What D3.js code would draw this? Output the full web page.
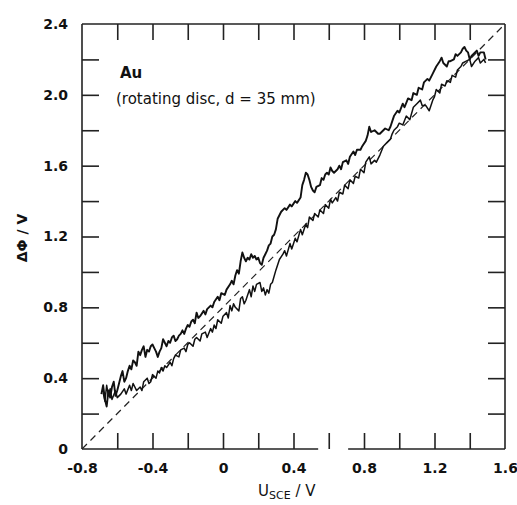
<!DOCTYPE html>
<html lang="en">
<head>
<meta charset="UTF-8">
<title>Au rotating disc</title>
<script src="https://d3js.org/d3.v7.min.js"></script>
<style>
  body { margin: 0; background: #fff; }
  svg { display: block; }
  .lbl text { font-family: "DejaVu Sans", sans-serif; font-size: 14px; font-weight: bold; fill: #111; }
  .note { font-family: "DejaVu Sans", sans-serif; font-size: 15px; fill: #111; }
</style>
</head>
<body>
<svg width="517" height="505"></svg>
<script>
// upper branch
const upperU = [-0.69,-0.68,-0.67,-0.66,-0.65,-0.64,-0.63,-0.62,-0.61,-0.60,-0.59,-0.58,-0.57,-0.56,-0.55,-0.54,-0.53,-0.52,-0.51,-0.50,-0.49,-0.48,-0.47,-0.46,-0.45,-0.44,-0.43,-0.42,-0.41,-0.40,-0.39,-0.38,-0.37,-0.36,-0.35,-0.34,-0.33,-0.32,-0.31,-0.30,-0.29,-0.28,-0.27,-0.26,-0.25,-0.24,-0.23,-0.22,-0.21,-0.20,-0.19,-0.18,-0.17,-0.16,-0.15,-0.14,-0.13,-0.11,-0.10,-0.09,-0.07,-0.06,-0.05,-0.03,-0.02,-0.01,0.01,0.02,0.04,0.05,0.06,0.07,0.08,0.09,0.10,0.11,0.12,0.13,0.14,0.15,0.16,0.17,0.18,0.19,0.20,0.21,0.22,0.23,0.24,0.25,0.26,0.27,0.28,0.29,0.30,0.31,0.32,0.33,0.35,0.36,0.38,0.39,0.41,0.42,0.44,0.45,0.46,0.47,0.48,0.49,0.50,0.51,0.52,0.53,0.55,0.56,0.57,0.58,0.59,0.60,0.61,0.62,0.63,0.65,0.66,0.67,0.68,0.70,0.71,0.72,0.74,0.75,0.76,0.78,0.79,0.81,0.82,0.83,0.84,0.86,0.88,0.89,0.91,0.92,0.94,0.95,0.96,0.97,0.99,1.00,1.02,1.03,1.05,1.07,1.08,1.10,1.11,1.13,1.14,1.16,1.17,1.19,1.21,1.23,1.24,1.25,1.26,1.27,1.28,1.29,1.31,1.32,1.33,1.35,1.36,1.37,1.38,1.39,1.40,1.41,1.42,1.44,1.45,1.46,1.48,1.49];
const upperPhi = [0.31,0.36,0.28,0.24,0.33,0.29,0.35,0.38,0.30,0.33,0.37,0.41,0.44,0.38,0.40,0.44,0.47,0.45,0.50,0.49,0.47,0.55,0.53,0.56,0.58,0.52,0.56,0.55,0.58,0.59,0.57,0.55,0.52,0.55,0.57,0.62,0.60,0.58,0.61,0.60,0.63,0.64,0.61,0.62,0.64,0.65,0.67,0.65,0.68,0.70,0.69,0.72,0.73,0.71,0.77,0.74,0.75,0.78,0.76,0.79,0.81,0.80,0.83,0.86,0.84,0.88,0.87,0.90,0.93,0.95,0.93,0.98,1.01,0.99,1.06,1.11,1.08,1.06,1.08,1.07,1.10,1.08,1.09,1.07,1.08,1.05,1.04,1.08,1.10,1.12,1.15,1.16,1.20,1.21,1.24,1.30,1.32,1.34,1.36,1.35,1.38,1.37,1.40,1.39,1.42,1.49,1.52,1.56,1.55,1.52,1.48,1.46,1.45,1.48,1.49,1.53,1.52,1.55,1.56,1.55,1.59,1.57,1.56,1.58,1.60,1.58,1.62,1.63,1.61,1.65,1.68,1.66,1.69,1.69,1.71,1.74,1.77,1.82,1.79,1.80,1.78,1.78,1.80,1.81,1.80,1.82,1.85,1.88,1.91,1.90,1.95,1.93,1.98,1.97,2.01,2.00,2.04,2.03,2.07,2.09,2.08,2.12,2.16,2.19,2.21,2.18,2.17,2.16,2.19,2.19,2.20,2.23,2.22,2.24,2.26,2.27,2.25,2.24,2.20,2.22,2.23,2.25,2.22,2.24,2.24,2.20];

// lower branch
const lowerU = [-0.68,-0.67,-0.66,-0.65,-0.64,-0.63,-0.61,-0.60,-0.58,-0.56,-0.55,-0.53,-0.52,-0.51,-0.49,-0.47,-0.46,-0.45,-0.43,-0.42,-0.41,-0.40,-0.38,-0.37,-0.36,-0.35,-0.34,-0.33,-0.32,-0.30,-0.29,-0.28,-0.27,-0.25,-0.24,-0.22,-0.21,-0.20,-0.19,-0.17,-0.16,-0.15,-0.13,-0.12,-0.10,-0.09,-0.07,-0.06,-0.05,-0.04,-0.03,-0.01,0.00,0.02,0.03,0.04,0.05,0.06,0.07,0.09,0.10,0.11,0.12,0.13,0.15,0.16,0.17,0.18,0.19,0.21,0.22,0.23,0.24,0.25,0.26,0.27,0.28,0.30,0.32,0.34,0.35,0.36,0.38,0.39,0.41,0.42,0.44,0.45,0.47,0.48,0.49,0.51,0.52,0.54,0.55,0.57,0.58,0.60,0.61,0.62,0.64,0.65,0.66,0.68,0.69,0.71,0.72,0.74,0.75,0.77,0.78,0.80,0.81,0.83,0.84,0.86,0.87,0.89,0.91,0.93,0.95,0.96,0.97,0.99,1.00,1.02,1.04,1.06,1.08,1.10,1.12,1.13,1.15,1.17,1.19,1.20,1.21,1.23,1.24,1.26,1.27,1.29,1.30,1.32,1.33,1.35,1.36,1.38,1.40,1.41,1.43,1.45,1.46,1.48,1.49];
const lowerPhi = [0.32,0.27,0.36,0.30,0.34,0.28,0.33,0.29,0.31,0.34,0.31,0.36,0.33,0.37,0.33,0.35,0.33,0.38,0.40,0.37,0.38,0.42,0.40,0.44,0.43,0.46,0.44,0.47,0.46,0.49,0.47,0.51,0.53,0.52,0.56,0.57,0.55,0.59,0.60,0.58,0.62,0.63,0.61,0.65,0.66,0.63,0.68,0.66,0.70,0.68,0.73,0.71,0.75,0.77,0.74,0.81,0.78,0.82,0.80,0.78,0.85,0.86,0.82,0.84,0.90,0.86,0.92,0.89,0.93,0.94,0.89,0.91,0.87,0.90,0.88,0.93,0.94,1.01,1.07,1.10,1.12,1.09,1.16,1.13,1.19,1.17,1.24,1.21,1.27,1.25,1.31,1.29,1.33,1.31,1.35,1.33,1.38,1.36,1.41,1.39,1.42,1.40,1.45,1.44,1.49,1.47,1.52,1.50,1.54,1.53,1.58,1.56,1.62,1.65,1.61,1.63,1.62,1.66,1.71,1.73,1.75,1.78,1.80,1.82,1.84,1.83,1.88,1.86,1.93,1.95,1.97,1.94,1.94,1.91,1.97,1.99,2.03,2.01,2.06,2.05,2.08,2.07,2.11,2.10,2.14,2.16,2.18,2.19,2.20,2.16,2.19,2.21,2.18,2.20,2.18];

// dashed guide line
const guideU = [-0.8, 1.6];
const guidePhi = [0, 2.4];

const xLabelTicks = [-0.8, -0.4, 0, 0.4, 0.8, 1.2, 1.6];
const yLabelTicks = [0, 0.4, 0.8, 1.2, 1.6, 2.0, 2.4];
const xMarkTicks = [-0.6, -0.4, -0.2, 0, 0.2, 0.4, 0.6, 0.8, 1.0, 1.2, 1.4];
const yMarkTicks = [0.2, 0.4, 0.6, 0.8, 1.0, 1.2, 1.4, 1.6, 1.8, 2.0, 2.2];

const plotLeft = 82, plotRight = 505, plotTop = 24, plotBottom = 449;

const svg = d3.select('svg');
const x = d3.scaleLinear().domain([-0.8, 1.6]).range([plotLeft, plotRight]);
const y = d3.scaleLinear().domain([0, 2.4]).range([plotBottom, plotTop]);

// frame (bottom edge is broken in the original around 0.6)
const frame = svg.append('g').attr('stroke', '#222').attr('stroke-width', 1.6).attr('fill', 'none');
frame.append('line').attr('x1', x(-0.8)).attr('x2', x(1.6)).attr('y1', y(2.4)).attr('y2', y(2.4));
frame.append('line').attr('x1', x(-0.8)).attr('x2', x(-0.8)).attr('y1', y(0)).attr('y2', y(2.4));
frame.append('line').attr('x1', x(1.6)).attr('x2', x(1.6)).attr('y1', y(0)).attr('y2', y(2.4));
frame.append('line').attr('x1', x(-0.8)).attr('x2', x(0.54)).attr('y1', y(0)).attr('y2', y(0));
frame.append('line').attr('x1', x(0.71)).attr('x2', x(1.6)).attr('y1', y(0)).attr('y2', y(0));

// inward tick marks on all four sides
function marks(axis, tr) {
  const g = svg.append('g').attr('transform', tr)
    .call(axis.tickFormat('').tickSizeOuter(0));
  g.select('.domain').remove();
  g.selectAll('.tick line').attr('stroke', '#222').attr('stroke-width', 1.6);
}
marks(d3.axisBottom(x).tickValues(xMarkTicks).tickSize(-16), `translate(0,${plotBottom})`);
marks(d3.axisTop(x).tickValues(xMarkTicks).tickSize(-16), `translate(0,${plotTop})`);
marks(d3.axisLeft(y).tickValues(yMarkTicks).tickSize(-17), `translate(${plotLeft},0)`);
marks(d3.axisRight(y).tickValues(yMarkTicks).tickSize(-17), `translate(${plotRight},0)`);

// tick labels
const fmt = d => d === 0 ? '0' : d.toFixed(1);
const xl = svg.append('g').attr('class', 'lbl').attr('transform', `translate(0,${plotBottom})`)
  .call(d3.axisBottom(x).tickValues(xLabelTicks).tickSize(0).tickPadding(14).tickFormat(fmt));
xl.select('.domain').remove();
const yl = svg.append('g').attr('class', 'lbl').attr('transform', `translate(${plotLeft},0)`)
  .call(d3.axisLeft(y).tickValues(yLabelTicks).tickSize(0).tickPadding(14).tickFormat(fmt));
yl.select('.domain').remove();

// dashed guide
const line = d3.line().x(d => x(d[0])).y(d => y(d[1]));
svg.append('path')
  .datum(d3.zip(guideU, guidePhi))
  .attr('d', line)
  .attr('fill', 'none').attr('stroke', '#222').attr('stroke-width', 1.2)
  .attr('stroke-dasharray', '7,5');

// measured branches
svg.append('path')
  .datum(d3.zip(lowerU, lowerPhi))
  .attr('d', line)
  .attr('fill', 'none').attr('stroke', '#111').attr('stroke-width', 1.5).attr('stroke-linejoin', 'round');
svg.append('path')
  .datum(d3.zip(upperU, upperPhi))
  .attr('d', line)
  .attr('fill', 'none').attr('stroke', '#111').attr('stroke-width', 1.9).attr('stroke-linejoin', 'round');

// annotations
svg.append('text').attr('class', 'note').attr('x', 120).attr('y', 78)
  .style('font-weight', 'bold').text('Au');
svg.append('text').attr('class', 'note').attr('x', 116).attr('y', 104)
  .text('(rotating disc, d = 35 mm)');

// axis titles
svg.append('text').attr('class', 'note')
  .attr('transform', 'translate(27,238) rotate(-90)')
  .attr('text-anchor', 'middle').style('font-weight', 'bold').style('font-size', '14px')
  .text('ΔΦ / V');
const xt = svg.append('text').attr('class', 'note').attr('x', 258).attr('y', 496)
  .style('font-size', '15px');
xt.append('tspan').text('U');
xt.append('tspan').attr('dy', 3).style('font-size', '11px').text('SCE');
xt.append('tspan').attr('dy', -3).text(' / V');
</script>
</body>
</html>
